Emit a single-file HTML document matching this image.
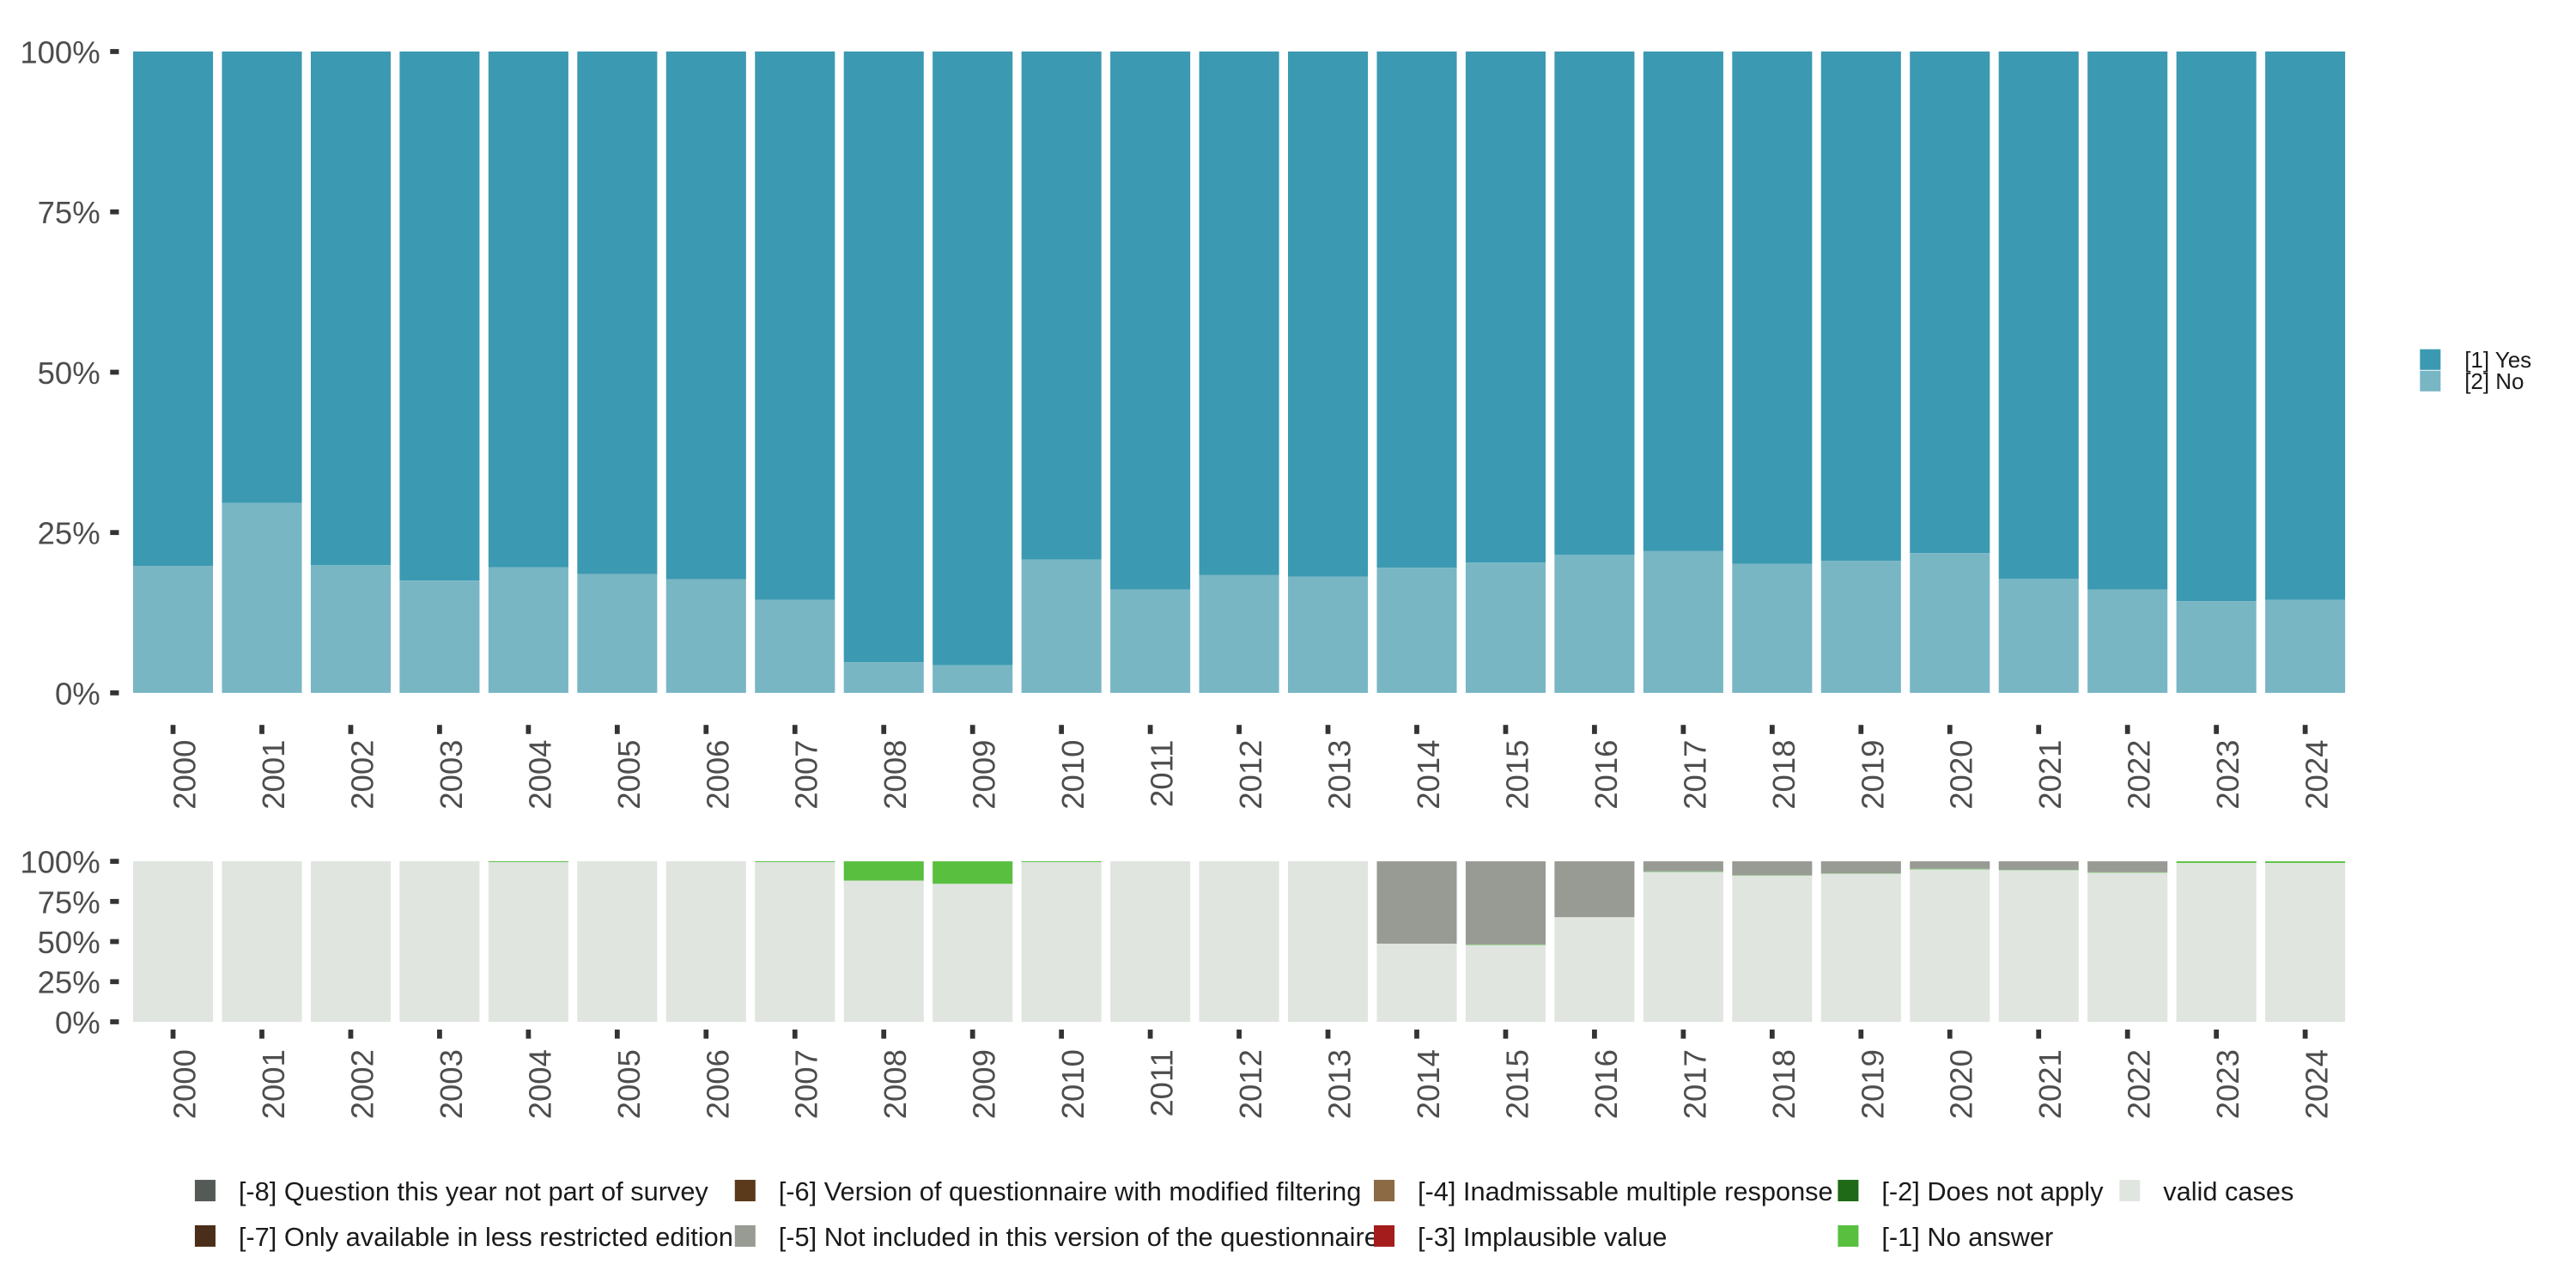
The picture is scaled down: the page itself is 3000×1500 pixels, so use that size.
<!DOCTYPE html>
<html><head><meta charset="utf-8"><style>
html,body{margin:0;padding:0;background:#fff}
svg{display:block;font-family:"Liberation Sans",sans-serif}
</style></head><body>
<svg id="chart" width="3000" height="1500" viewBox="0 0 1560 780" xmlns="http://www.w3.org/2000/svg"></svg>
<script>
const years=["2000","2001","2002","2003","2004","2005","2006","2007","2008","2009","2010","2011","2012","2013","2014","2015","2016","2017","2018","2019","2020","2021","2022","2023","2024"];
const noPct=[19.8,29.6,19.9,17.5,19.6,18.5,17.7,14.5,4.8,4.3,20.8,16.1,18.4,18.1,19.5,20.3,21.5,22.1,20.1,20.6,21.8,17.8,16.1,14.3,14.5];
const validPct=[100,100,100,100,99.5,100,100,99.5,88,86,99.5,100,100,100,48.7,47.9,65.2,93.4,91.1,92.3,95.0,94.5,92.9,99,99];
const noAnswerPct=[0,0,0,0,0.5,0,0,0.5,12,14,0.5,0,0,0,0,0.3,0,0.3,0.2,0.2,0.3,0.2,0.3,1,1];
const notIncludedPct=[0,0,0,0,0,0,0,0,0,0,0,0,0,0,51.3,51.8,34.8,6.3,8.7,7.5,4.7,5.3,6.8,0,0];
const yTicks=[0,25,50,75,100];
const yTickLabels=["0%","25%","50%","75%","100%"];

const svgEl=document.getElementById('chart');
const NS="http://www.w3.org/2000/svg";
function mk(tag,attrs,parent){const e=document.createElementNS(NS,tag);for(const k in attrs)e.setAttribute(k,attrs[k]);(parent||svgEl).appendChild(e);return e;}
const x0=77.9,band=53.8,bw=48.4;
function xc(i){return x0+band*(i+0.5);}
function yTop(v){return 419.6-388.4*v/100;}
function yBot(v){return 618.8-97.2*v/100;}

function axes(g,yf,tickY,labelY){
  yTicks.forEach((t,i)=>{
    mk('line',{x1:66.7,x2:72,y1:yf(t),y2:yf(t),stroke:'#333','stroke-width':3},g);
    const tx=mk('text',{x:60.7,y:yf(t)+7,'text-anchor':'end','font-size':19,fill:'#4d4d4d'},g);
    tx.textContent=yTickLabels[i];
  });
  years.forEach((yr,i)=>{
    mk('line',{x1:xc(i),x2:xc(i),y1:tickY,y2:tickY+5.5,stroke:'#333','stroke-width':3},g);
    const tx=mk('text',{x:0,y:0,'text-anchor':'end','font-size':19,fill:'#4d4d4d',transform:`translate(${xc(i)+13.5},${labelY}) rotate(-90)`},g);
    tx.textContent=yr;
  });
}

const topPanel=mk('g',{});


years.forEach((yr,i)=>{
  const r1=mk('rect',{x:xc(i)-bw/2,y:yTop(100),width:bw,height:yTop(noPct[i])-yTop(100),fill:'#3c99b2'},topPanel);
  
  
  const r2=mk('rect',{x:xc(i)-bw/2,y:yTop(noPct[i]),width:bw,height:yTop(0)-yTop(noPct[i]),fill:'#78b6c4'},topPanel);
  
  
});
axes(topPanel,yTop,439,448);

const botPanel=mk('g',{});


years.forEach((yr,i)=>{
  let acc=0;
  [[validPct,'#e0e5e0','valid'],[noAnswerPct,'#58bf3f','no-answer'],[notIncludedPct,'#979b94','not-included']].forEach(([arr,c,n])=>{
    const v=arr[i];if(v<=0)return;
    const r=mk('rect',{x:xc(i)-bw/2,y:yBot(acc+v),width:bw,height:yBot(acc)-yBot(acc+v),fill:c},botPanel);
    
    
    acc+=v;
  });
});
axes(botPanel,yBot,623.5,635.5);

const lg=mk('g',{});


[['[1] Yes','#3c99b2',211],['[2] No','#78b6c4',224]].forEach(([t,c,y])=>{
  mk('rect',{x:1465.5,y:y+0.5,width:12.5,height:12.5,fill:c},lg);
  const tx=mk('text',{x:1492.5,y:y+11.5,'font-size':13.5,fill:'#1a1a1a'},lg);tx.textContent=t;
});

const bl=mk('g',{});


const legItems=[
 ['[-8] Question this year not part of survey','#545b56',118,714.5],
 ['[-7] Only available in less restricted edition','#4a2e19',118,742],
 ['[-6] Version of questionnaire with modified filtering','#5a3a1b',445,714.5],
 ['[-5] Not included in this version of the questionnaire','#979b94',445,742],
 ['[-4] Inadmissable multiple response','#8c6a44',832,714.5],
 ['[-3] Implausible value','#a51c1c',832,742],
 ['[-2] Does not apply','#1e6a17',1113,714.5],
 ['[-1] No answer','#58bf3f',1113,742],
 ['valid cases','#e0e5e0',1283.5,714.5]];
legItems.forEach(([t,c,x,y])=>{
  mk('rect',{x:x,y:y,width:12.5,height:13,fill:c},bl);
  const tx=mk('text',{x:x+26.5,y:y+12.5,'font-size':16,fill:'#1a1a1a'},bl);tx.textContent=t;
});
</script>
</body></html>
